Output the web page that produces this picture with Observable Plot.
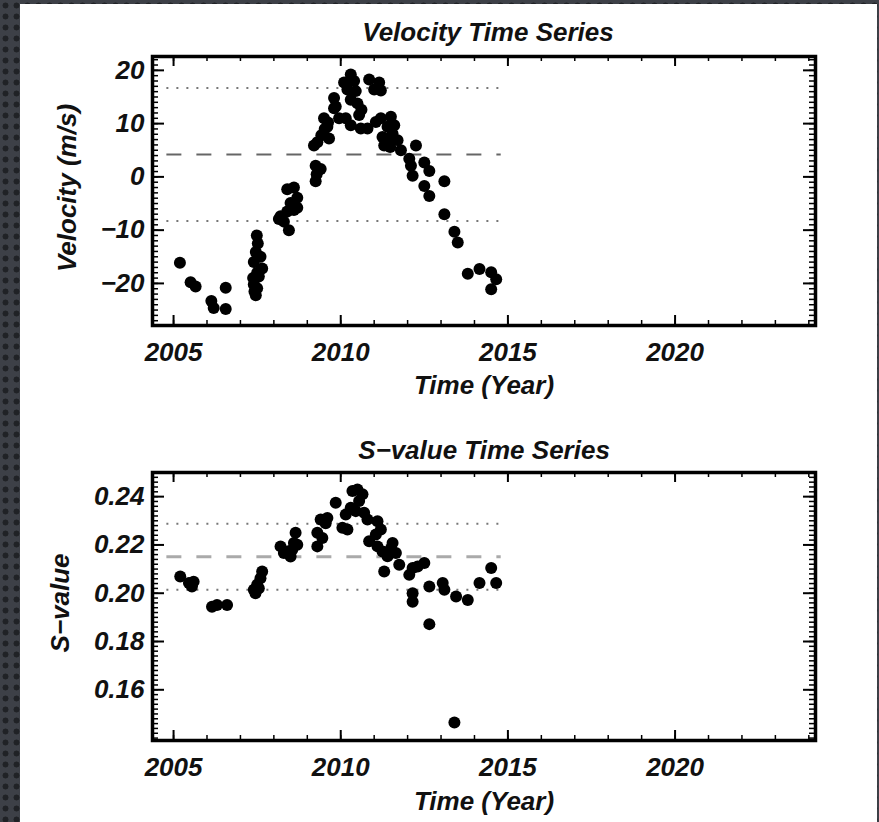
<!DOCTYPE html>
<html>
<head>
<meta charset="utf-8">
<script src="https://cdn.jsdelivr.net/npm/d3@7"></script>
<script src="https://cdn.jsdelivr.net/npm/@observablehq/plot@0.6"></script>
<style>
  html, body { margin: 0; padding: 0; }
  body {
    width: 879px; height: 822px; overflow: hidden; position: relative;
    background-color: #3d4047;
    background-image: radial-gradient(circle, #202226 35%, transparent 42%);
    background-size: 11px 11px;
  }
  #panel { position: absolute; left: 20px; top: 4px; width: 857px; height: 818px; background: #fff; }
  .plot { position: absolute; left: 0; }
  .lbl {
    position: absolute; transform: translate(-50%, -50%); white-space: nowrap;
    font-family: "Liberation Sans", Arial, sans-serif;
    font-style: italic; font-weight: bold; color: #111; font-size: 26px;
  }
  .rot { transform: translate(-50%, -50%) rotate(-90deg); }
</style>
</head>
<body>
<div id="panel"></div>
<div id="p1" class="plot" style="top:0px"></div>
<div id="p2" class="plot" style="top:410px"></div>
<div class="lbl" style="left:488px;top:32px">Velocity Time Series</div>
<div class="lbl" style="left:484px;top:385px">Time (Year)</div>
<div class="lbl rot" style="left:67px;top:188px">Velocity (m/s)</div>
<div class="lbl" style="left:484px;top:450px">S−value Time Series</div>
<div class="lbl" style="left:484px;top:801px">Time (Year)</div>
<div class="lbl rot" style="left:60px;top:603px">S−value</div>
<script>
// ---- Data ----
const velYears = [2005.19, 2005.51, 2005.66, 2006.13, 2006.2, 2006.56, 2006.56,
  2007.49, 2007.52, 2007.46, 2007.6, 2007.4, 2007.65, 2007.5, 2007.38, 2007.55, 2007.4, 2007.5, 2007.42, 2007.46,
  2008.4, 2008.6, 2008.7, 2008.5, 2008.7, 2008.4, 2008.2, 2008.3, 2008.15, 2008.45, 2008.6,
  2009.25, 2009.28, 2009.25, 2009.4, 2009.2, 2009.3, 2009.42, 2009.52, 2009.65, 2009.6, 2009.5, 2009.62, 2009.8, 2009.85, 2009.95,
  2009.8, 2010.1, 2010.3, 2010.4, 2010.2, 2010.45, 2010.3, 2010.5, 2010.15, 2010.3, 2010.55, 2010.62, 2010.6,
  2010.85, 2011.0, 2011.15, 2011.2, 2010.8, 2011.05, 2011.2, 2011.25, 2011.3, 2011.4, 2011.5, 2011.55, 2011.6, 2011.7, 2011.8, 2011.4, 2011.48,
  2012.05, 2012.1, 2012.25, 2012.15, 2012.5, 2012.65, 2012.5, 2012.65, 2013.1, 2013.1, 2013.4, 2013.5,
  2013.8, 2014.15, 2014.5, 2014.65, 2014.5];
const velValues = [-16.1, -19.8, -20.6, -23.3, -24.6, -20.8, -24.8,
  -11.0, -12.5, -14.1, -15.0, -16.0, -17.2, -18.0, -19.0, -18.7, -20.2, -20.9, -21.5, -22.2,
  -2.3, -2.0, -3.9, -4.9, -5.8, -6.5, -7.4, -8.4, -7.9, -10.0, -6.2,
  -0.8, 0.5, 2.1, 1.5, 5.9, 6.5, 7.8, 9.0, 7.2, 9.4, 11.0, 10.2, 14.8, 13.2, 11.0,
  12.9, 17.7, 19.2, 18.0, 16.4, 16.1, 14.5, 13.8, 11.0, 9.7, 11.6, 12.6, 9.1,
  18.3, 16.4, 17.7, 16.2, 9.1, 10.3, 11.0, 7.5, 5.9, 9.4, 11.3, 8.1, 9.7, 6.9, 5.0, 6.9, 5.6,
  3.4, 2.1, 5.9, 0.2, 2.7, 1.1, -1.7, -3.6, -0.8, -7.0, -10.3, -12.3,
  -18.2, -17.3, -17.9, -19.2, -21.1];

const sYears = [2005.2, 2005.46, 2005.6, 2005.55, 2006.15, 2006.3, 2006.6,
  2007.4, 2007.5, 2007.6, 2007.65, 2007.45, 2007.55,
  2008.2, 2008.4, 2008.5, 2008.6, 2008.65, 2008.55, 2008.3, 2008.7,
  2009.3, 2009.3, 2009.4, 2009.45, 2009.6, 2009.55, 2009.85, 2010.05, 2010.2, 2010.15, 2010.3,
  2010.35, 2010.5, 2010.65, 2010.55, 2010.45, 2010.7, 2010.8, 2010.85,
  2011.1, 2011.2, 2011.05, 2011.1, 2011.25, 2011.3, 2011.4, 2011.55, 2011.65, 2011.75, 2011.5,
  2012.05, 2012.15, 2012.3, 2012.5, 2012.15, 2012.15, 2012.65, 2012.65,
  2013.05, 2013.1, 2013.4, 2013.45, 2013.8, 2014.15, 2014.5, 2014.65];
const sValues = [0.2069, 0.2042, 0.2048, 0.2028, 0.1944, 0.1951, 0.1951,
  0.2014, 0.2035, 0.2062, 0.2090, 0.2000, 0.2021,
  0.2194, 0.2173, 0.2152, 0.2208, 0.2250, 0.2180, 0.2167, 0.2201,
  0.2250, 0.2194, 0.2305, 0.2229, 0.2312, 0.2290, 0.2375, 0.2271, 0.2264, 0.2326, 0.2354,
  0.2423, 0.2430, 0.2410, 0.2382, 0.2340, 0.2333, 0.2305, 0.2215,
  0.2298, 0.2264, 0.2243, 0.2194, 0.2173, 0.2090, 0.2153, 0.2208, 0.2167, 0.2118, 0.2185,
  0.2076, 0.2104, 0.2111, 0.2125, 0.2000, 0.1965, 0.2028, 0.1872,
  0.2042, 0.2014, 0.1465, 0.1986, 0.1972, 0.2042, 0.2104, 0.2042];

// reference lines: mean (dashed) and mean ± sd (dotted)
const velMean = 4.2, velSd = 12.5;
const sMean = 0.2151, sSd = 0.0137;
const refStart = 2004.8, refEnd = 2014.8;

// axes / ticks
const xDomain = [2004.37, 2024.2];
const xMajor = [2005, 2010, 2015, 2020];
const xMinor = d3.range(2005, 2025, 1);
const velDomain = [-27.9, 22.6];
const velMajor = [-20, -10, 0, 10, 20];
const velMinor = d3.range(-27, 23, 1);
const sDomain = [0.139, 0.25];
const sMajor = [0.16, 0.18, 0.20, 0.22, 0.24];
const sMinor = d3.range(70, 126, 1).map(d => d * 0.002);

const W = 879, ML = 152, MR = 64;
const FONT = '"Liberation Sans", Arial, sans-serif';

function panel({years, values, yDomain, yMajor, yMinor, mean, sd, fmt, height, mt, mb, dashColor, dashWidth}) {
  const fw = W - ML - MR, fh = height - mt - mb;
  const pts = years.map((x, i) => ({x, y: values[i]}));
  const refs = [
    {y: mean + sd, kind: "dot"}, {y: mean, kind: "dash"}, {y: mean - sd, kind: "dot"}
  ];
  return Plot.plot({
    width: W, height, marginLeft: ML, marginRight: MR, marginTop: mt, marginBottom: mb,
    style: {background: "transparent", fontFamily: FONT, fontStyle: "italic", fontWeight: "bold", color: "#111"},
    x: {domain: xDomain, label: null},
    y: {domain: yDomain, label: null},
    marks: [
      Plot.ruleY(refs.filter(r => r.kind === "dot"), {y: "y", x1: refStart, x2: refEnd, stroke: "#777", strokeWidth: 2, strokeDasharray: "2,8"}),
      Plot.ruleY(refs.filter(r => r.kind === "dash"), {y: "y", x1: refStart, x2: refEnd, stroke: dashColor, strokeWidth: dashWidth, strokeDasharray: "15,15"}),
      Plot.dot(pts, {x: "x", y: "y", r: 6, fill: "#000", stroke: "none"}),
      // x ticks (bottom and top, inward)
      Plot.tickX(xMajor, {x: d => d, insetTop: fh - 10, stroke: "#000", strokeWidth: 2}),
      Plot.tickX(xMajor, {x: d => d, insetBottom: fh - 10, stroke: "#000", strokeWidth: 2}),
      Plot.tickX(xMinor, {x: d => d, insetTop: fh - 5, stroke: "#000", strokeWidth: 1.5}),
      Plot.tickX(xMinor, {x: d => d, insetBottom: fh - 5, stroke: "#000", strokeWidth: 1.5}),
      // y ticks (left and right, inward)
      Plot.tickY(yMajor, {y: d => d, insetRight: fw - 12, stroke: "#000", strokeWidth: 2}),
      Plot.tickY(yMajor, {y: d => d, insetLeft: fw - 12, stroke: "#000", strokeWidth: 2}),
      Plot.tickY(yMinor, {y: d => d, insetRight: fw - 6, stroke: "#000", strokeWidth: 1.5}),
      Plot.tickY(yMinor, {y: d => d, insetLeft: fw - 6, stroke: "#000", strokeWidth: 1.5}),
      Plot.frame({stroke: "#000", strokeWidth: 3.5}),
      Plot.axisX({ticks: xMajor, tickSize: 0, tickPadding: 17, fontSize: 26, label: null, tickFormat: d => String(d)}),
      Plot.axisY({ticks: yMajor, tickSize: 0, tickPadding: 8, fontSize: 26, label: null, tickFormat: fmt})
    ]
  });
}

document.getElementById("p1").append(panel({
  years: velYears, values: velValues, yDomain: velDomain, yMajor: velMajor, yMinor: velMinor,
  mean: velMean, sd: velSd, fmt: d => (d < 0 ? "−" + Math.abs(d) : String(d)),
  height: 410, mt: 56, mb: 85, dashColor: "#666", dashWidth: 2
}));
document.getElementById("p2").append(panel({
  years: sYears, values: sValues, yDomain: sDomain, yMajor: sMajor, yMinor: sMinor,
  mean: sMean, sd: sSd, fmt: d => d.toFixed(2),
  height: 412, mt: 62, mb: 82, dashColor: "#aaa", dashWidth: 3
}));
</script>
</body>
</html>
